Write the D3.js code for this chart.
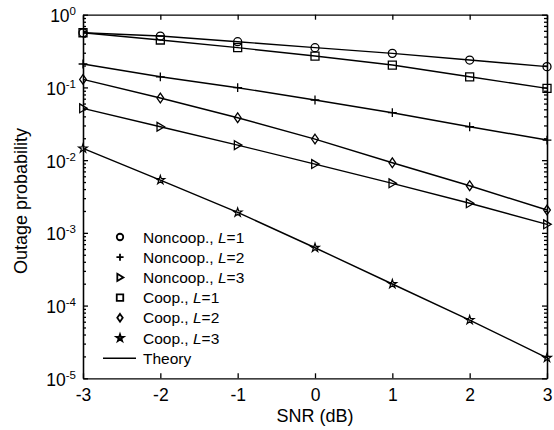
<!DOCTYPE html>
<html>
<head>
<meta charset="utf-8">
<script src="https://cdn.jsdelivr.net/npm/d3@7"></script>
<style>
  body { margin: 0; background: #fff; }
  svg { font-family: "Liberation Sans", Arial, sans-serif; }
</style>
</head>
<body>
<svg id="chart" width="554" height="430"></svg>
<script>
// SNR points (dB)
const snr = [-3, -2, -1, 0, 1, 2, 3];

// outage probability
const noncoopL1 = [0.565, 0.509, 0.425, 0.352, 0.294, 0.238, 0.193];
const noncoopL2 = [0.210, 0.140, 0.0991, 0.0671, 0.0449, 0.0288, 0.0189];
const noncoopL3 = [0.0516, 0.0288, 0.0161, 0.00883, 0.00480, 0.00255, 0.00131];
const coopL1 = [0.565, 0.449, 0.352, 0.270, 0.203, 0.140, 0.097];
const coopL2 = [0.129, 0.0715, 0.0383, 0.0195, 0.0092, 0.00445, 0.00206];
const coopL3 = [0.0145, 0.00532, 0.00191, 0.000624, 0.000198, 0.0000632, 0.0000191];

const xTicks = [-3, -2, -1, 0, 1, 2, 3];
const yDecades = [-5, -4, -3, -2, -1, 0];

const series = [
  { name: "Noncoop., ", L: "1", values: noncoopL1, shape: "circle" },
  { name: "Noncoop., ", L: "2", values: noncoopL2, shape: "plus" },
  { name: "Noncoop., ", L: "3", values: noncoopL3, shape: "triangle" },
  { name: "Coop., ", L: "1", values: coopL1, shape: "square" },
  { name: "Coop., ", L: "2", values: coopL2, shape: "diamond" },
  { name: "Coop., ", L: "3", values: coopL3, shape: "star" }
];

const svg = d3.select("#chart");
const plotLeft = 83, plotRight = 547, plotTop = 14.7, plotBottom = 378.3;

const x = d3.scaleLinear().domain([-3, 3]).range([plotLeft, plotRight]);
const y = d3.scaleLog().domain([1e-5, 1]).range([plotBottom, plotTop]);

// marker path for a given shape, size s
function markerPath(shape, s) {
  switch (shape) {
    case "circle": return d3.symbol(d3.symbolCircle, Math.PI * s * s / 4)();
    case "square": { const h = s / 2; return `M${-h},${-h}H${h}V${h}H${-h}Z`; }
    case "diamond": { const w = s * 0.42, h = s * 0.6; return `M0,${-h}L${w},0L0,${h}L${-w},0Z`; }
    case "triangle": { const h = s * 0.55; return `M${-h * 0.75},${-h}L${h * 0.95},0L${-h * 0.75},${h}Z`; }
    case "plus": { const h = s * 0.55; return `M${-h},0H${h}M0,${-h}V${h}`; }
    case "star": return d3.symbol(d3.symbolStar, s * s * 0.36)();
  }
}

// axes: minor log ticks
const minor = [];
yDecades.slice(0, -1).forEach(k => {
  for (let m = 2; m <= 9; m++) minor.push(m * Math.pow(10, k));
});
const major = yDecades.map(k => Math.pow(10, k));

svg.append("g").attr("transform", `translate(${plotLeft},0)`)
  .call(d3.axisLeft(y).tickValues(minor).tickFormat("").tickSizeInner(-3).tickSizeOuter(0));
svg.append("g").attr("transform", `translate(${plotRight},0)`)
  .call(d3.axisRight(y).tickValues(minor).tickFormat("").tickSizeInner(-3).tickSizeOuter(0));

const yAxis = svg.append("g").attr("transform", `translate(${plotLeft},0)`)
  .call(d3.axisLeft(y).tickValues(major).tickFormat("").tickSizeInner(-5).tickSizeOuter(0));
svg.append("g").attr("transform", `translate(${plotRight},0)`)
  .call(d3.axisRight(y).tickValues(major).tickFormat("").tickSizeInner(-5).tickSizeOuter(0));

const xAxis = svg.append("g").attr("transform", `translate(0,${plotBottom})`)
  .call(d3.axisBottom(x).tickValues(xTicks).tickFormat(d => d).tickSizeInner(-5).tickSizeOuter(0).tickPadding(10));
svg.append("g").attr("transform", `translate(0,${plotTop})`)
  .call(d3.axisTop(x).tickValues(xTicks).tickFormat("").tickSizeInner(-5).tickSizeOuter(0));

svg.selectAll(".domain, .tick line").attr("stroke", "#000").attr("stroke-width", 1.3);

xAxis.selectAll("text")
  .attr("font-size", 17.5).attr("fill", "#000")
  .attr("font-family", "Liberation Sans, Arial, sans-serif")
  .text(d => d < 0 ? "-" + Math.abs(d) : d);

// y tick labels as 10 with superscript exponent
yAxis.selectAll(".tick").each(function (d) {
  const t = d3.select(this).append("text")
    .attr("x", -7).attr("y", 7)
    .attr("text-anchor", "end")
    .attr("fill", "#000")
    .attr("font-family", "Liberation Sans, Arial, sans-serif");
  t.append("tspan").attr("font-size", 17.5).text("10");
  t.append("tspan").attr("font-size", 11.5).attr("dy", -7)
    .text(Math.round(Math.log10(d)));
});

// theory lines and markers
const line = d3.line().x((d, i) => x(snr[i])).y(d => y(d));

series.forEach(s => {
  svg.append("path")
    .attr("d", line(s.values))
    .attr("fill", "none")
    .attr("stroke", "#000")
    .attr("stroke-width", 1.4);
  svg.selectAll(null).data(s.values).enter().append("path")
    .attr("transform", (d, i) => `translate(${x(snr[i])},${y(d)})`)
    .attr("d", markerPath(s.shape, 8))
    .attr("fill", "none")
    .attr("stroke", "#000")
    .attr("stroke-width", s.shape === "star" ? 1.2 : 1.3);
});

// legend
const legend = svg.append("g").attr("transform", "translate(120,237)");
series.forEach((s, i) => {
  const row = legend.append("g").attr("transform", `translate(0,${i * 20.2})`);
  row.append("path")
    .attr("d", markerPath(s.shape, 6.5))
    .attr("fill", "none").attr("stroke", "#000").attr("stroke-width", 1.8);
  const t = row.append("text").attr("x", 23).attr("y", 5.5).attr("font-size", 15.5).attr("fill", "#000");
  t.append("tspan").text(s.name);
  t.append("tspan").attr("font-style", "italic").text("L");
  t.append("tspan").text("=" + s.L);
});
const theoryRow = legend.append("g").attr("transform", `translate(0,${6 * 20.2})`);
theoryRow.append("line").attr("x1", -17).attr("x2", 16).attr("stroke", "#000").attr("stroke-width", 1.4);
theoryRow.append("text").attr("x", 23).attr("y", 5.5).attr("font-size", 15.5).attr("fill", "#000").text("Theory");

// axis titles
svg.append("text")
  .attr("x", 315).attr("y", 422)
  .attr("text-anchor", "middle").attr("font-size", 18).attr("fill", "#000")
  .text("SNR (dB)");
svg.append("text")
  .attr("transform", "translate(27,201) rotate(-90)")
  .attr("text-anchor", "middle").attr("font-size", 18).attr("fill", "#000")
  .text("Outage probability");
</script>
</body>
</html>
